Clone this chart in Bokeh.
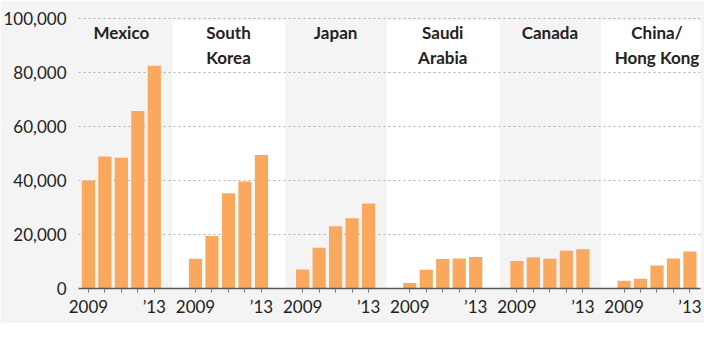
from bokeh.plotting import figure
from bokeh.models import FixedTicker, NumeralTickFormatter, Range1d
from bokeh.embed import file_html
from bokeh.resources import INLINE
from bokeh.core.properties import value

# ---------------- data ----------------
countries = ["Mexico", "South Korea", "Japan", "Saudi Arabia", "Canada", "China/Hong Kong"]
title_line1 = ["Mexico", "South", "Japan", "Saudi", "Canada", "China/"]
title_line2 = ["", "Korea", "", "Arabia", "", "Hong Kong"]
years = [2009, 2010, 2011, 2012, 2013]
year_labels = ["2009", "", "", "", "\u201913"]

mexico = [40000, 48900, 48400, 65700, 82500]
south_korea = [11000, 19400, 35300, 39600, 49400]
japan = [7000, 15100, 23100, 26000, 31500]
saudi_arabia = [2000, 6900, 10900, 11100, 11700]
canada = [10200, 11600, 11000, 14000, 14500]
china_hong_kong = [2900, 3600, 8500, 11100, 13700]

y_ticks = [0, 20000, 40000, 60000, 80000, 100000]

series = [mexico, south_korea, japan, saudi_arabia, canada, china_hong_kong]

# ---------------- layout helpers ----------------
GROUP_STEP = 6.5
xs, tops = [], []
overrides = {}
for g, vals in enumerate(series):
    for i, v in enumerate(vals):
        x = g * GROUP_STEP + i
        xs.append(x)
        tops.append(v)
        overrides[x] = year_labels[i]

centers = [g * GROUP_STEP + 2 for g in range(len(countries))]

BG = "#f4f4f4"
BAR = "#f9a85e"
FONT = "Lato"

Y_END = 102218
p = figure(width=704, height=323,
           x_range=Range1d(-0.6, 37.14), y_range=Range1d(0, Y_END),
           output_backend="svg", toolbar_location=None,
           min_border_left=78, min_border_right=4,
           min_border_top=12, min_border_bottom=35)
p.background_fill_color = BG
p.border_fill_color = BG
p.outline_line_color = None

# white panels behind alternate groups
wl, wr, wt = [], [], []
for g in range(1, len(countries), 2):
    wl.append(g * GROUP_STEP - 1.4)
    wr.append(g * GROUP_STEP + 5.45)
    wt.append(99300)
p.quad(left=wl, right=wr, bottom=0, top=wt, fill_color="white",
       line_color=None, level="image")

# bars
p.vbar(x=xs, top=tops, bottom=0, width=0.8, fill_color=BAR, line_color=None)

# country titles
px_per_unit = 276.5 / Y_END
def yv(py):
    return (288.5 - py) / px_per_unit

p.text(x=centers, y=[yv(32)] * len(centers), text=title_line1,
       text_align="center", text_baseline="middle",
       text_font=value(FONT), text_font_style="bold",
       text_font_size="17px", text_color="#222222")
p.text(x=centers, y=[yv(57)] * len(centers), text=title_line2,
       text_align="center", text_baseline="middle",
       text_font=value(FONT), text_font_style="bold",
       text_font_size="17px", text_color="#222222")

# grid
p.xgrid.visible = False
p.ygrid.ticker = FixedTicker(ticks=y_ticks)
p.ygrid.grid_line_color = "#b0b0b0"
p.ygrid.grid_line_dash = "2 3"
p.ygrid.grid_line_width = 1

# y axis
p.yaxis.ticker = FixedTicker(ticks=y_ticks)
p.yaxis.formatter = NumeralTickFormatter(format="0,0")
p.yaxis.axis_line_color = None
p.yaxis.major_tick_line_color = None
p.yaxis.minor_tick_line_color = None
p.yaxis.major_label_standoff = 6
p.yaxis.major_label_text_font = FONT
p.yaxis.major_label_text_font_size = "17px"
p.yaxis.major_label_text_color = "#222222"

# x axis
p.xaxis.ticker = FixedTicker(ticks=xs)
p.xaxis.major_label_overrides = overrides
p.xaxis.axis_line_color = "#555555"
p.xaxis.axis_line_width = 1.5
p.xaxis.major_tick_line_color = "#777777"
p.xaxis.major_tick_out = 4
p.xaxis.major_tick_in = 0
p.xaxis.minor_tick_line_color = None
p.xaxis.major_label_standoff = 3
p.xaxis.major_label_text_font = FONT
p.xaxis.major_label_text_font_size = "17px"
p.xaxis.major_label_text_color = "#222222"

open("out.html", "w").write(file_html(p, INLINE))
